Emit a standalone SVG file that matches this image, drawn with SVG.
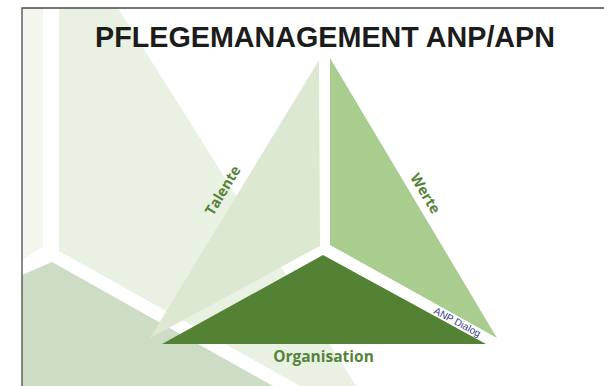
<svg xmlns="http://www.w3.org/2000/svg" width="604" height="386" viewBox="0 0 604 386">
  <style>
    .lbl { font-family: "Open Sans", "Liberation Sans", sans-serif; font-weight: bold; fill: #55833a; }
    .title { font-family: "Liberation Sans", "DejaVu Sans", sans-serif; font-weight: bold; fill: #1c1c1c; }
    .small { font-family: "Liberation Sans", Arial, sans-serif; fill: #33408a; }
  </style>
  <rect x="0" y="0" width="604" height="386" fill="#ffffff"/>
  <g id="background">
    <polygon points="22,8 43,8 43,247 22,260" fill="#f3f6ef"/>
    <polygon points="59,8 118,8 356,386 300,386 59,251" fill="#e9f1e2"/>
    <polygon points="22,275 52,262 273,386 22,386" fill="#cddcc4"/>
  </g>
  <g id="frame">
    <polyline points="22,386 22,8 604,8" fill="none" stroke="#4a4a4a" stroke-width="1.3"/>
  </g>
  <g id="title">
    <text class="title" x="325" y="46.5" font-size="30" text-anchor="middle" textLength="460" lengthAdjust="spacingAndGlyphs">PFLEGEMANAGEMENT ANP/APN</text>
  </g>
  <g id="talente">
    <polygon points="319,60 320,246 150,338" fill="#dde8d3"/>
    <text class="lbl" x="227" y="193" font-size="14.5" text-anchor="middle" transform="rotate(-59 227 193)">Talente</text>
  </g>
  <g id="werte">
    <polygon points="330,58 330,245 497,338" fill="#a9cd8f"/>
    <text class="lbl" x="421" y="196" font-size="14.5" text-anchor="middle" transform="rotate(59 421 196)">Werte</text>
  </g>
  <g id="organisation">
    <polygon points="323,255 162,344 486,344" fill="#548235"/>
    <text class="lbl" x="323.5" y="362" font-size="15.5" text-anchor="middle">Organisation</text>
  </g>
  <g id="anp-dialog">
    <text class="small" x="433" y="313" font-size="10" transform="rotate(28 433 313)">ANP Dialog</text>
  </g>
  <g id="connectors"/>
</svg>
